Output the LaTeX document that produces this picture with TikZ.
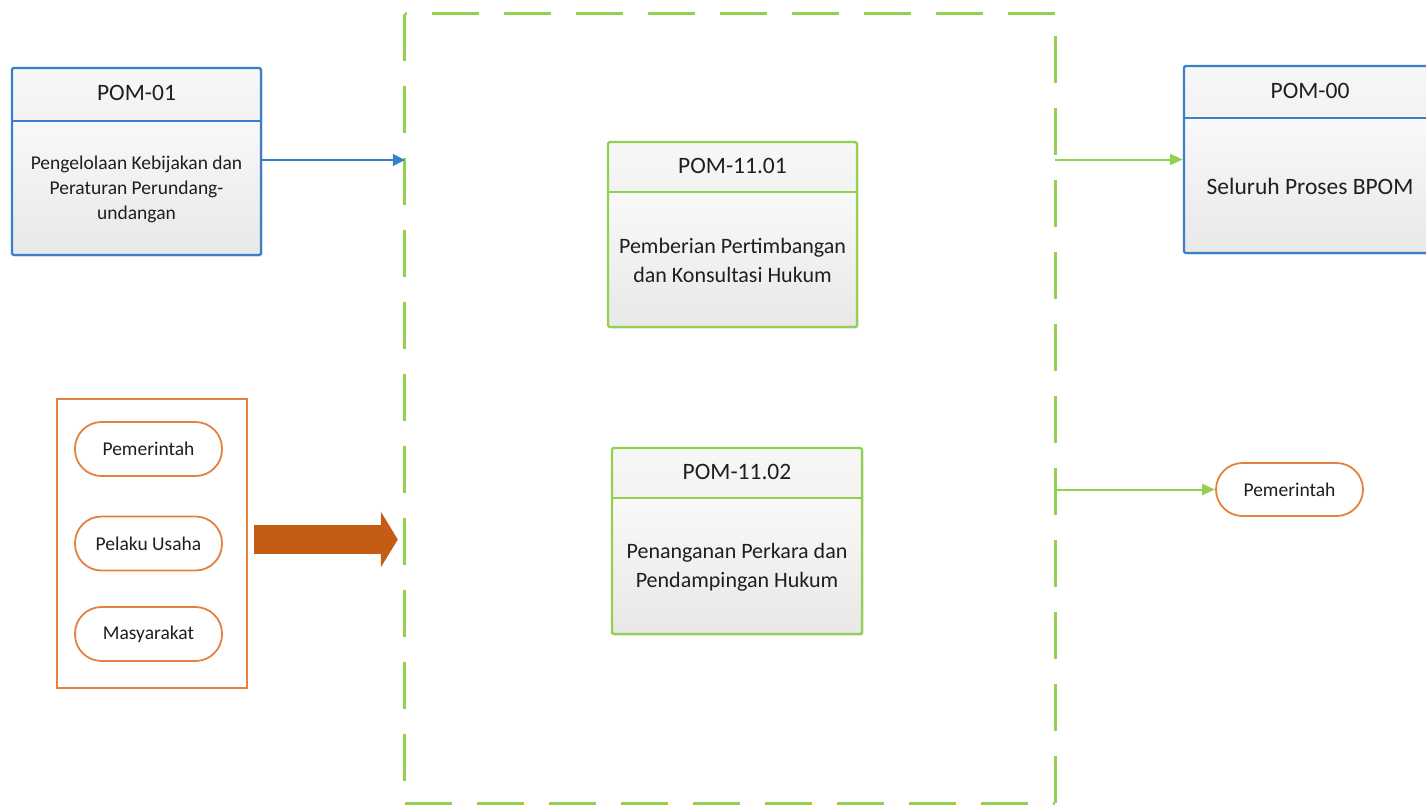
\documentclass[tikz,border=0pt]{standalone}
\usepackage{fontspec}
\setmainfont{Carlito}
\usetikzlibrary{arrows.meta,shadows,calc}

\definecolor{bpomblue}{RGB}{58,128,200}
\definecolor{bpomgreen}{RGB}{146,208,80}
\definecolor{bpomorange}{RGB}{226,130,62}
\definecolor{fatorange}{RGB}{197,92,20}
\definecolor{inktext}{RGB}{30,30,36}

\begin{document}
\begin{tikzpicture}[x=1pt,y=-1pt,
  every node/.style={text=inktext},
  procbox/.style 2 args={draw=#1, line width=2.2pt, rounded corners=1.5pt,
    top color=white, bottom color=black!9, inner sep=0pt,
    drop shadow={shadow xshift=1.5pt, shadow yshift=-1.5pt, opacity=0.25, fill=black!40},
    path picture={
      \shade[top color=black!3, bottom color=black!10]
        (path picture bounding box.north west) rectangle
        ([yshift=-#2]path picture bounding box.north east);
      \draw[#1, line width=2.2pt]
        ([yshift=-#2]path picture bounding box.north west) --
        ([yshift=-#2]path picture bounding box.north east);}},
  titletext/.style={font=\fontsize{23.5}{28}\selectfont, inner sep=0pt},
  smallbody/.style={font=\fontsize{19.5}{25}\selectfont, align=center, inner sep=0pt},
  bodytext/.style={font=\fontsize{22}{29}\selectfont, align=center, inner sep=0pt},
  actor/.style={draw=bpomorange, line width=1.8pt, fill=white, rounded corners=26.5pt,
    minimum width=147pt, minimum height=54pt, inner sep=0pt,
    font=\fontsize{19.5}{23}\selectfont},
  boundary/.style={draw=bpomgreen, line width=3pt, dash pattern=on 47pt off 25pt},
  flowblue/.style={draw=bpomblue, line width=1.8pt, -{Triangle[length=12pt,width=12pt]}},
  flowgreen/.style={draw=bpomgreen, line width=2pt, -{Triangle[length=13pt,width=11pt]}},
]
\path[use as bounding box, clip] (0,0) rectangle (1426,804);

% process boundary: each side dashed from its own corner
\node[minimum width=650pt, minimum height=789pt, inner sep=0pt]
      (lingkup) at (730,408.5) {};
\draw[boundary] (lingkup.north east) -- (lingkup.north west);
\draw[boundary] (lingkup.north west) -- (lingkup.south west);
\draw[boundary] (lingkup.south west) -- (lingkup.south east);
\draw[boundary] (lingkup.south east) -- (lingkup.north east);

% POM-01
\node[procbox={bpomblue}{53pt}, minimum width=249pt, minimum height=187pt]
      (pom01) at (136.5,161.5) {};
\node[titletext] (pom01t) at ($(pom01.north)+(0,26.5)$) {POM-01};
\node[smallbody] (pom01b) at ($(pom01.south)+(0,-67)$)
      {Pengelolaan Kebijakan dan\\Peraturan Perundang-\\undangan};

% POM-11.01
\node[procbox={bpomgreen}{50pt}, minimum width=249pt, minimum height=185pt]
      (p1101) at (732.5,234.5) {};
\node[titletext] (p1101t) at ($(p1101.north)+(0,25)$) {POM-11.01};
\node[bodytext] (p1101b) at ($(p1101.south)+(0,-67.5)$)
      {Pemberian Pertimbangan\\dan Konsultasi Hukum};

% POM-11.02
\node[procbox={bpomgreen}{50pt}, minimum width=250pt, minimum height=186pt]
      (p1102) at (737,541) {};
\node[titletext] (p1102t) at ($(p1102.north)+(0,25)$) {POM-11.02};
\node[bodytext] (p1102b) at ($(p1102.south)+(0,-68)$)
      {Penanganan Perkara dan\\Pendampingan Hukum};

% POM-00
\node[procbox={bpomblue}{52pt}, minimum width=252pt, minimum height=187pt]
      (pom00) at (1310,159.5) {};
\node[titletext] (pom00t) at ($(pom00.north)+(0,26)$) {POM-00};
\node[titletext] (pom00b) at ($(pom00.south)+(0,-67.5)$) {Seluruh Proses BPOM};

% stakeholders
\node[draw=bpomorange, line width=1.8pt, minimum width=190pt, minimum height=289pt,
      inner sep=0pt] (src) at (152,543.5) {};
\node[actor] (gov) at (148.5,449) {Pemerintah};
\node[actor] (biz) at (148.5,543.5) {Pelaku Usaha};
\node[actor] (pub) at (148.5,634) {Masyarakat};

\node[actor, minimum height=53pt] (gov2) at (1289.5,489.5) {Pemerintah};

% flows
\draw[flowblue] ([yshift=1.5pt]pom01.east) -- ([yshift=1.5pt]lingkup.west |- pom01.east);
\draw[flowgreen] (lingkup.east |- pom00.west) -- (pom00.west);
\draw[flowgreen] (lingkup.east |- gov2.west) -- (gov2.west);
\draw[fatorange, line width=29pt, -{Triangle[length=17pt,width=55pt]}]
  ([xshift=6pt,yshift=4pt]src.east) -- ([xshift=-7pt,yshift=4pt]lingkup.west |- src.east);
\end{tikzpicture}
\end{document}
